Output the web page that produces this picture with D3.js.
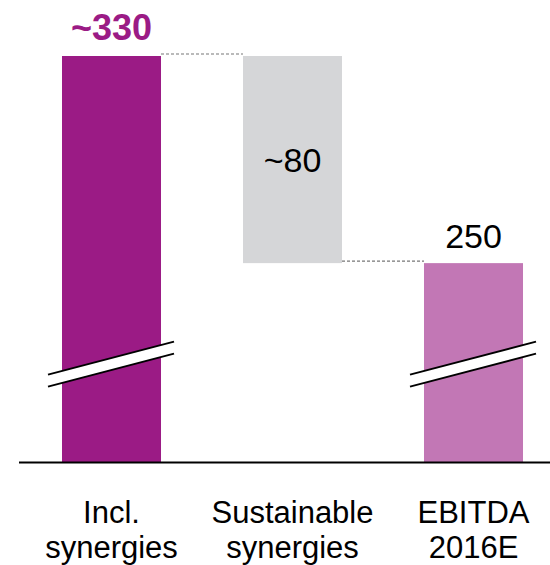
<!DOCTYPE html>
<html>
<head>
<meta charset="utf-8">
<script src="https://cdn.jsdelivr.net/npm/d3@7"></script>
<style>
  html, body { margin: 0; padding: 0; background: #fff; }
  svg { display: block; font-family: "Liberation Sans", Arial, sans-serif; }
</style>
</head>
<body>
<svg id="chart" width="550" height="565"></svg>
<script>
// Waterfall: EBITDA including synergies, minus sustainable synergies
const categories = ["Incl. synergies", "Sustainable synergies", "EBITDA 2016E"];
const categoryLines = [["Incl.", "synergies"], ["Sustainable", "synergies"], ["EBITDA", "2016E"]];
const barStart = [null, 250, null];   // floating bar lower end
const barEnd = [330, 330, 250];       // bar top
const valueLabels = ["~330", "~80", "250"];
const barColors = ["#9B1B85", "#D5D6D8", "#C277B5"];
const labelColors = ["#9B1B85", "#000", "#000"];
const labelWeights = ["bold", "normal", "normal"];
const brokenBars = [true, false, true];

const svg = d3.select("#chart");
const baselineY = 462.5;

const x = d3.scaleBand()
  .domain(categories)
  .range([21, 564])
  .paddingInner(0.453)
  .paddingOuter(0.2265);

// Broken value axis: the visible range starts well above zero
const y = d3.scaleLinear().domain([173, 330]).range([baselineY, 56]);
const axisFloor = y.domain()[0];

const bars = categories.map((c, i) => ({
  cat: c,
  lo: barStart[i] == null ? axisFloor : barStart[i],
  hi: barEnd[i],
  color: barColors[i]
}));

svg.selectAll("rect.bar")
  .data(bars)
  .join("rect")
  .attr("class", "bar")
  .attr("x", d => x(d.cat))
  .attr("width", x.bandwidth())
  .attr("y", d => y(d.hi))
  .attr("height", d => y(d.lo) - y(d.hi))
  .attr("fill", d => d.color);

// Dashed connectors between consecutive bars
const connectors = [
  { from: 0, to: 1, v: barEnd[0] },
  { from: 1, to: 2, v: barStart[1] }
];
svg.selectAll("line.conn")
  .data(connectors)
  .join("line")
  .attr("class", "conn")
  .attr("x1", d => x(categories[d.from]) + x.bandwidth())
  .attr("x2", d => x(categories[d.to]))
  .attr("y1", d => y(d.v) - 2)
  .attr("y2", d => y(d.v) - 2)
  .attr("stroke", "#777")
  .attr("stroke-width", 1.2)
  .attr("stroke-dasharray", "3,2");

// Axis break markers on the bars that start at zero
const breakAt = 211;
const breakRise = 33, breakGap = 12, overhang = 13;
categories.forEach((c, i) => {
  if (!brokenBars[i]) return;
  const x0 = x(c) - overhang - 1, x1 = x(c) + x.bandwidth() + overhang;
  const yc = y(breakAt);
  const yL = yc + breakRise / 2 - breakGap / 2, yR = yc - breakRise / 2 - breakGap / 2;
  const g = svg.append("g");
  g.append("path")
    .attr("d", `M${x0},${yL} L${x1},${yR} L${x1},${yR + breakGap} L${x0},${yL + breakGap} Z`)
    .attr("fill", "#fff");
  [0, breakGap].forEach(off => {
    g.append("line")
      .attr("x1", x0).attr("y1", yL + off)
      .attr("x2", x1).attr("y2", yR + off)
      .attr("stroke", "#000").attr("stroke-width", 2);
  });
});

// Baseline
svg.append("line")
  .attr("x1", 19).attr("x2", 550)
  .attr("y1", baselineY).attr("y2", baselineY)
  .attr("stroke", "#000").attr("stroke-width", 2);

// Value labels
const labelPos = [
  d => y(d.hi) - 16,
  d => (y(d.hi) + y(d.lo)) / 2 + 12,
  d => y(d.hi) - 15
];
svg.selectAll("text.val")
  .data(bars)
  .join("text")
  .attr("class", "val")
  .attr("x", d => x(d.cat) + x.bandwidth() / 2)
  .attr("y", (d, i) => labelPos[i](d))
  .attr("text-anchor", "middle")
  .attr("font-size", (d, i) => i === 0 ? 36 : 34)
  .attr("font-weight", (d, i) => labelWeights[i])
  .attr("fill", (d, i) => labelColors[i])
  .text((d, i) => valueLabels[i]);

// Category labels
categories.forEach((c, i) => {
  const t = svg.append("text")
    .attr("x", x(c) + x.bandwidth() / 2)
    .attr("y", 523)
    .attr("text-anchor", "middle")
    .attr("font-size", 31)
    .attr("fill", "#000");
  categoryLines[i].forEach((line, k) => {
    t.append("tspan")
      .attr("x", x(c) + x.bandwidth() / 2)
      .attr("dy", k === 0 ? 0 : 34.5)
      .text(line);
  });
});
</script>
</body>
</html>
